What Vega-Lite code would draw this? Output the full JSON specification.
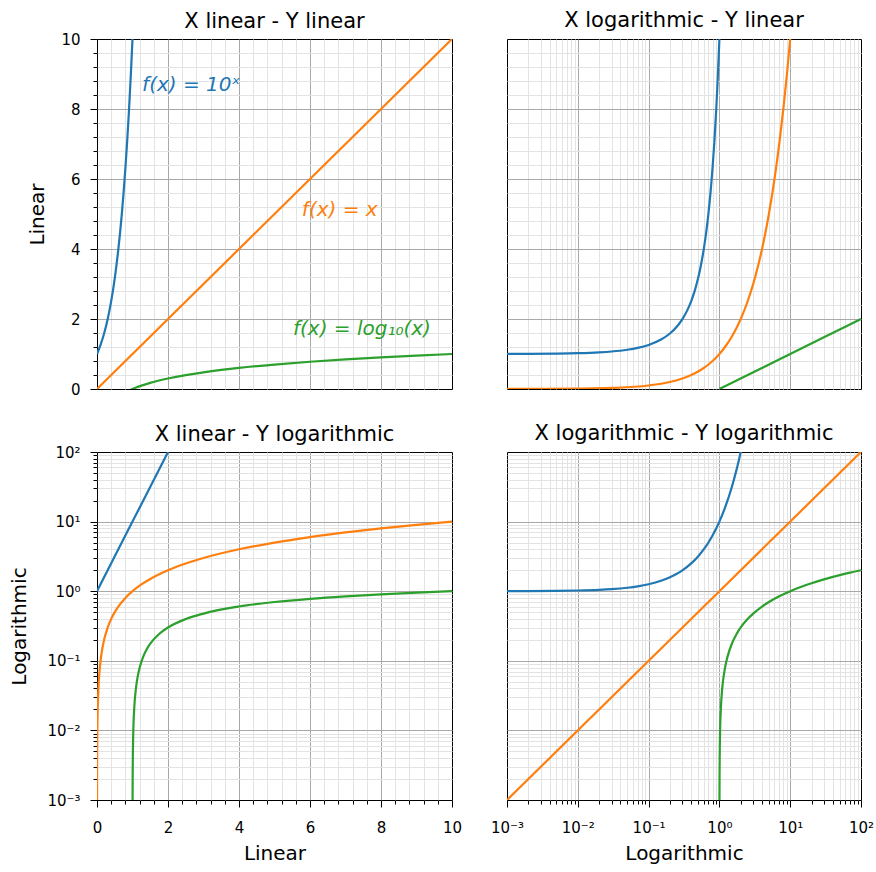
{
  "$schema": "https://vega.github.io/schema/vega-lite/v6.json",
  "padding": {"left": 9, "top": 9, "right": 0, "bottom": 0},
  "background": "white",
  "config": {
    "font": "DejaVu Sans",
    "view": {"stroke": "#000", "strokeWidth": 1},
    "axis": {"labelFont": "DejaVu Sans", "labelFontSize": 15, "labelColor": "#000", "titleFont": "DejaVu Sans", "titleFontSize": 20, "titleFontWeight": "normal", "titleColor": "#000", "domain": false, "tickColor": "#000", "tickWidth": 1, "gridWidth": 1, "labelPadding": 8, "titlePadding": 10, "labelFlush": false, "labelOverlap": false},
    "title": {"font": "DejaVu Sans", "fontSize": 21, "fontWeight": "normal", "color": "#000", "offset": 3}
  },
  "datasets": {
    "tl": [
      {"f": "pow", "x": 0, "y": 1}, {"f": "pow", "x": 0.1, "y": 1.2589}, {"f": "pow", "x": 0.2, "y": 1.5849}, {"f": "pow", "x": 0.3, "y": 1.9953}, {"f": "pow", "x": 0.4, "y": 2.5119}, {"f": "pow", "x": 0.5, "y": 3.1623}, {"f": "pow", "x": 0.6, "y": 3.9811}, {"f": "pow", "x": 0.65, "y": 4.4668}, {"f": "pow", "x": 0.7, "y": 5.0119}, {"f": "pow", "x": 0.75, "y": 5.6234}, {"f": "pow", "x": 0.8, "y": 6.3096}, {"f": "pow", "x": 0.85, "y": 7.0795}, {"f": "pow", "x": 0.9, "y": 7.9433}, {"f": "pow", "x": 0.95, "y": 8.9125}, {"f": "pow", "x": 1.0, "y": 10}, {"f": "pow", "x": 1.05, "y": 11.22},
      {"f": "lin", "x": 0, "y": 0}, {"f": "lin", "x": 5, "y": 5}, {"f": "lin", "x": 10, "y": 10},
      {"f": "log", "x": 0.9, "y": -0.0458}, {"f": "log", "x": 1, "y": 0}, {"f": "log", "x": 1.1, "y": 0.0414}, {"f": "log", "x": 1.25, "y": 0.0969}, {"f": "log", "x": 1.5, "y": 0.1761}, {"f": "log", "x": 1.75, "y": 0.243}, {"f": "log", "x": 2, "y": 0.301}, {"f": "log", "x": 2.5, "y": 0.3979}, {"f": "log", "x": 3, "y": 0.4771}, {"f": "log", "x": 3.5, "y": 0.5441}, {"f": "log", "x": 4, "y": 0.6021}, {"f": "log", "x": 5, "y": 0.699}, {"f": "log", "x": 6, "y": 0.7782}, {"f": "log", "x": 7, "y": 0.8451}, {"f": "log", "x": 8, "y": 0.9031}, {"f": "log", "x": 9, "y": 0.9542}, {"f": "log", "x": 10, "y": 1}
    ],
    "tr": [
      {"f": "pow", "x": 0.001, "y": 1.0023}, {"f": "pow", "x": 0.002, "y": 1.0046}, {"f": "pow", "x": 0.005, "y": 1.0116}, {"f": "pow", "x": 0.01, "y": 1.0233}, {"f": "pow", "x": 0.02, "y": 1.0471}, {"f": "pow", "x": 0.03, "y": 1.0715}, {"f": "pow", "x": 0.05, "y": 1.122}, {"f": "pow", "x": 0.07, "y": 1.1749}, {"f": "pow", "x": 0.1, "y": 1.2589}, {"f": "pow", "x": 0.15, "y": 1.4125}, {"f": "pow", "x": 0.2, "y": 1.5849}, {"f": "pow", "x": 0.25, "y": 1.7783}, {"f": "pow", "x": 0.3, "y": 1.9953}, {"f": "pow", "x": 0.35, "y": 2.2387}, {"f": "pow", "x": 0.4, "y": 2.5119}, {"f": "pow", "x": 0.45, "y": 2.8184}, {"f": "pow", "x": 0.5, "y": 3.1623}, {"f": "pow", "x": 0.55, "y": 3.5481}, {"f": "pow", "x": 0.6, "y": 3.9811}, {"f": "pow", "x": 0.65, "y": 4.4668}, {"f": "pow", "x": 0.7, "y": 5.0119}, {"f": "pow", "x": 0.75, "y": 5.6234}, {"f": "pow", "x": 0.8, "y": 6.3096}, {"f": "pow", "x": 0.85, "y": 7.0795}, {"f": "pow", "x": 0.9, "y": 7.9433}, {"f": "pow", "x": 0.95, "y": 8.9125}, {"f": "pow", "x": 1.0, "y": 10}, {"f": "pow", "x": 1.05, "y": 11.22},
      {"f": "lin", "x": 0.001, "y": 0.001}, {"f": "lin", "x": 0.003, "y": 0.003}, {"f": "lin", "x": 0.01, "y": 0.01}, {"f": "lin", "x": 0.03, "y": 0.03}, {"f": "lin", "x": 0.1, "y": 0.1}, {"f": "lin", "x": 0.2, "y": 0.2}, {"f": "lin", "x": 0.3, "y": 0.3}, {"f": "lin", "x": 0.4, "y": 0.4}, {"f": "lin", "x": 0.5, "y": 0.5}, {"f": "lin", "x": 0.6, "y": 0.6}, {"f": "lin", "x": 0.7, "y": 0.7}, {"f": "lin", "x": 0.8, "y": 0.8}, {"f": "lin", "x": 0.9, "y": 0.9}, {"f": "lin", "x": 1, "y": 1}, {"f": "lin", "x": 1.25, "y": 1.25}, {"f": "lin", "x": 1.5, "y": 1.5}, {"f": "lin", "x": 1.75, "y": 1.75}, {"f": "lin", "x": 2, "y": 2}, {"f": "lin", "x": 2.5, "y": 2.5}, {"f": "lin", "x": 3, "y": 3}, {"f": "lin", "x": 3.5, "y": 3.5}, {"f": "lin", "x": 4, "y": 4}, {"f": "lin", "x": 4.5, "y": 4.5}, {"f": "lin", "x": 5, "y": 5}, {"f": "lin", "x": 6, "y": 6}, {"f": "lin", "x": 7, "y": 7}, {"f": "lin", "x": 8, "y": 8}, {"f": "lin", "x": 9, "y": 9}, {"f": "lin", "x": 10, "y": 10}, {"f": "lin", "x": 11, "y": 11},
      {"f": "log", "x": 1, "y": 0}, {"f": "log", "x": 10, "y": 1}, {"f": "log", "x": 100, "y": 2}
    ],
    "bl": [
      {"f": "pow", "x": 0, "y": 1}, {"f": "pow", "x": 1, "y": 10}, {"f": "pow", "x": 2, "y": 100}, {"f": "pow", "x": 2.1, "y": 125.89},
      {"f": "lin", "x": 0.0008, "y": 0.0008}, {"f": "lin", "x": 0.001, "y": 0.001}, {"f": "lin", "x": 0.002, "y": 0.002}, {"f": "lin", "x": 0.005, "y": 0.005}, {"f": "lin", "x": 0.01, "y": 0.01}, {"f": "lin", "x": 0.02, "y": 0.02}, {"f": "lin", "x": 0.03, "y": 0.03}, {"f": "lin", "x": 0.05, "y": 0.05}, {"f": "lin", "x": 0.07, "y": 0.07}, {"f": "lin", "x": 0.1, "y": 0.1}, {"f": "lin", "x": 0.15, "y": 0.15}, {"f": "lin", "x": 0.2, "y": 0.2}, {"f": "lin", "x": 0.3, "y": 0.3}, {"f": "lin", "x": 0.4, "y": 0.4}, {"f": "lin", "x": 0.5, "y": 0.5}, {"f": "lin", "x": 0.6, "y": 0.6}, {"f": "lin", "x": 0.8, "y": 0.8}, {"f": "lin", "x": 1, "y": 1}, {"f": "lin", "x": 1.25, "y": 1.25}, {"f": "lin", "x": 1.5, "y": 1.5}, {"f": "lin", "x": 2, "y": 2}, {"f": "lin", "x": 2.5, "y": 2.5}, {"f": "lin", "x": 3, "y": 3}, {"f": "lin", "x": 4, "y": 4}, {"f": "lin", "x": 5, "y": 5}, {"f": "lin", "x": 6, "y": 6}, {"f": "lin", "x": 7, "y": 7}, {"f": "lin", "x": 8, "y": 8}, {"f": "lin", "x": 9, "y": 9}, {"f": "lin", "x": 10, "y": 10},
      {"f": "log", "x": 1.001, "y": 0.000434}, {"f": "log", "x": 1.0023, "y": 0.001}, {"f": "log", "x": 1.005, "y": 0.00217}, {"f": "log", "x": 1.01, "y": 0.00432}, {"f": "log", "x": 1.02, "y": 0.0086}, {"f": "log", "x": 1.05, "y": 0.0212}, {"f": "log", "x": 1.1, "y": 0.0414}, {"f": "log", "x": 1.15, "y": 0.0607}, {"f": "log", "x": 1.2, "y": 0.0792}, {"f": "log", "x": 1.3, "y": 0.1139}, {"f": "log", "x": 1.4, "y": 0.1461}, {"f": "log", "x": 1.5, "y": 0.1761}, {"f": "log", "x": 1.75, "y": 0.243}, {"f": "log", "x": 2, "y": 0.301}, {"f": "log", "x": 2.5, "y": 0.3979}, {"f": "log", "x": 3, "y": 0.4771}, {"f": "log", "x": 4, "y": 0.6021}, {"f": "log", "x": 5, "y": 0.699}, {"f": "log", "x": 6, "y": 0.7782}, {"f": "log", "x": 7, "y": 0.8451}, {"f": "log", "x": 8, "y": 0.9031}, {"f": "log", "x": 9, "y": 0.9542}, {"f": "log", "x": 10, "y": 1}
    ],
    "br": [
      {"f": "pow", "x": 0.001, "y": 1.0023}, {"f": "pow", "x": 0.005, "y": 1.0116}, {"f": "pow", "x": 0.01, "y": 1.0233}, {"f": "pow", "x": 0.02, "y": 1.0471}, {"f": "pow", "x": 0.03, "y": 1.0715}, {"f": "pow", "x": 0.05, "y": 1.122}, {"f": "pow", "x": 0.07, "y": 1.1749}, {"f": "pow", "x": 0.1, "y": 1.2589}, {"f": "pow", "x": 0.15, "y": 1.4125}, {"f": "pow", "x": 0.2, "y": 1.5849}, {"f": "pow", "x": 0.25, "y": 1.7783}, {"f": "pow", "x": 0.3, "y": 1.9953}, {"f": "pow", "x": 0.4, "y": 2.5119}, {"f": "pow", "x": 0.5, "y": 3.1623}, {"f": "pow", "x": 0.6, "y": 3.9811}, {"f": "pow", "x": 0.7, "y": 5.0119}, {"f": "pow", "x": 0.8, "y": 6.3096}, {"f": "pow", "x": 0.9, "y": 7.9433}, {"f": "pow", "x": 1, "y": 10}, {"f": "pow", "x": 1.1, "y": 12.589}, {"f": "pow", "x": 1.2, "y": 15.849}, {"f": "pow", "x": 1.3, "y": 19.953}, {"f": "pow", "x": 1.4, "y": 25.119}, {"f": "pow", "x": 1.5, "y": 31.623}, {"f": "pow", "x": 1.6, "y": 39.811}, {"f": "pow", "x": 1.7, "y": 50.119}, {"f": "pow", "x": 1.8, "y": 63.096}, {"f": "pow", "x": 1.9, "y": 79.433}, {"f": "pow", "x": 2, "y": 100}, {"f": "pow", "x": 2.1, "y": 125.89},
      {"f": "lin", "x": 0.001, "y": 0.001}, {"f": "lin", "x": 1, "y": 1}, {"f": "lin", "x": 100, "y": 100},
      {"f": "log", "x": 1.001, "y": 0.000434}, {"f": "log", "x": 1.0023, "y": 0.001}, {"f": "log", "x": 1.005, "y": 0.00217}, {"f": "log", "x": 1.01, "y": 0.00432}, {"f": "log", "x": 1.02, "y": 0.0086}, {"f": "log", "x": 1.05, "y": 0.0212}, {"f": "log", "x": 1.1, "y": 0.0414}, {"f": "log", "x": 1.2, "y": 0.0792}, {"f": "log", "x": 1.3, "y": 0.1139}, {"f": "log", "x": 1.5, "y": 0.1761}, {"f": "log", "x": 1.75, "y": 0.243}, {"f": "log", "x": 2, "y": 0.301}, {"f": "log", "x": 2.5, "y": 0.3979}, {"f": "log", "x": 3, "y": 0.4771}, {"f": "log", "x": 4, "y": 0.6021}, {"f": "log", "x": 5, "y": 0.699}, {"f": "log", "x": 7, "y": 0.8451}, {"f": "log", "x": 10, "y": 1}, {"f": "log", "x": 15, "y": 1.1761}, {"f": "log", "x": 20, "y": 1.301}, {"f": "log", "x": 30, "y": 1.4771}, {"f": "log", "x": 50, "y": 1.699}, {"f": "log", "x": 70, "y": 1.8451}, {"f": "log", "x": 100, "y": 2}
    ],
    "notes": [
      {"f": "pow", "x": 1.27, "y": 8.69, "label": "f(x) = 10ˣ"},
      {"f": "lin", "x": 5.77, "y": 5.11, "label": "f(x) = x"},
      {"f": "log", "x": 5.52, "y": 1.71, "label": "f(x) = log₁₀(x)"}
    ]
  },
  "concat": [
    {
      "title": {"text": "X linear - Y linear", "offset": 0},
      "width": 355, "height": 350,
      "resolve": {"axis": {"x": "independent", "y": "independent"}},
      "layer": [
        {"data": {"name": "tl"}, "transform": [{"filter": "datum.y >= 0 && datum.y <= 10"}], "mark": {"type": "line", "opacity": 0, "clip": true},
         "encoding": {
           "x": {"field": "x", "type": "quantitative", "scale": {"domain": [0, 10], "nice": false, "zero": false}, "axis": {"orient": "bottom", "values": [0.4,0.8,1.2,1.6,2.4,2.8,3.2,3.6,4.4,4.8,5.2,5.6,6.4,6.8,7.2,7.6,8.4,8.8,9.2,9.6], "grid": true, "gridColor": "#e3e3e3", "labels": false, "ticks": false, "title": null}},
           "y": {"field": "y", "type": "quantitative", "scale": {"domain": [0, 10], "nice": false, "zero": false}, "axis": {"orient": "left", "values": [0.4,0.8,1.2,1.6,2.4,2.8,3.2,3.6,4.4,4.8,5.2,5.6,6.4,6.8,7.2,7.6,8.4,8.8,9.2,9.6], "grid": true, "gridColor": "#e3e3e3", "labels": false, "ticks": true, "tickSize": 4, "title": null}},
           "detail": {"field": "f"}
         }},
        {"data": {"name": "tl"}, "mark": {"type": "line", "clip": true, "strokeWidth": 2.2, "interpolate": "monotone"},
         "encoding": {
           "x": {"field": "x", "type": "quantitative", "scale": {"domain": [0, 10], "nice": false, "zero": false}, "axis": {"orient": "bottom", "values": [2,4,6,8], "grid": true, "gridColor": "#a8a8a8", "labels": false, "ticks": false, "title": null}},
           "y": {"field": "y", "type": "quantitative", "scale": {"domain": [0, 10], "nice": false, "zero": false}, "axis": {"orient": "left", "values": [2,4,6,8], "grid": true, "gridColor": "#a8a8a8", "labels": false, "ticks": false, "title": null}},
           "color": {"field": "f", "type": "nominal", "scale": {"domain": ["pow","lin","log"], "range": ["#1f77b4","#ff7f0e","#2ca02c"]}, "legend": null}
         }},
        {"data": {"name": "tl"}, "transform": [{"filter": "datum.y >= 0 && datum.y <= 10"}], "mark": {"type": "line", "opacity": 0, "clip": true},
         "encoding": {
           "x": {"field": "x", "type": "quantitative", "scale": {"domain": [0, 10], "nice": false, "zero": false}, "axis": null},
           "y": {"field": "y", "type": "quantitative", "scale": {"domain": [0, 10], "nice": false, "zero": false}, "axis": {"orient": "left", "values": [0,2,4,6,8,10], "grid": false, "tickSize": 7, "labelPadding": 10, "titlePadding": 13, "title": "Linear"}},
           "detail": {"field": "f"}
         }},
        {"data": {"name": "notes"}, "mark": {"type": "text", "align": "left", "baseline": "middle", "fontSize": 20, "fontStyle": "italic", "font": "DejaVu Sans"},
         "encoding": {
           "x": {"field": "x", "type": "quantitative", "scale": {"domain": [0, 10], "nice": false, "zero": false}, "axis": null},
           "y": {"field": "y", "type": "quantitative", "scale": {"domain": [0, 10], "nice": false, "zero": false}, "axis": null},
           "text": {"field": "label"},
           "color": {"field": "f", "type": "nominal", "scale": {"domain": ["pow","lin","log"], "range": ["#1f77b4","#ff7f0e","#2ca02c"]}, "legend": null}
         }}
      ]
    },
    {
      "title": {"text": "X logarithmic - Y linear", "offset": 8},
      "width": 354, "height": 350,
      "resolve": {"axis": {"x": "independent", "y": "independent"}},
      "layer": [
        {"data": {"name": "tr"}, "transform": [{"filter": "datum.y >= 0 && datum.y <= 10"}], "mark": {"type": "line", "opacity": 0, "clip": true},
         "encoding": {
           "x": {"field": "x", "type": "quantitative", "scale": {"type": "log", "domain": [0.001, 100], "nice": false}, "axis": {"orient": "bottom", "values": [0.002,0.003,0.004,0.005,0.006,0.007,0.008,0.009,0.02,0.03,0.04,0.05,0.06,0.07,0.08,0.09,0.2,0.3,0.4,0.5,0.6,0.7,0.8,0.9,2,3,4,5,6,7,8,9,20,30,40,50,60,70,80,90], "grid": true, "gridColor": "#e3e3e3", "labels": false, "ticks": false, "title": null}},
           "y": {"field": "y", "type": "quantitative", "scale": {"domain": [0, 10], "nice": false, "zero": false}, "axis": {"orient": "left", "values": [0.4,0.8,1.2,1.6,2.4,2.8,3.2,3.6,4.4,4.8,5.2,5.6,6.4,6.8,7.2,7.6,8.4,8.8,9.2,9.6], "grid": true, "gridColor": "#e3e3e3", "labels": false, "ticks": false, "title": null}},
           "detail": {"field": "f"}
         }},
        {"data": {"name": "tr"}, "mark": {"type": "line", "clip": true, "strokeWidth": 2.2, "interpolate": "monotone"},
         "encoding": {
           "x": {"field": "x", "type": "quantitative", "scale": {"type": "log", "domain": [0.001, 100], "nice": false}, "axis": {"orient": "bottom", "values": [0.01,0.1,1,10], "grid": true, "gridColor": "#a8a8a8", "labels": false, "ticks": false, "title": null}},
           "y": {"field": "y", "type": "quantitative", "scale": {"domain": [0, 10], "nice": false, "zero": false}, "axis": {"orient": "left", "values": [2,4,6,8], "grid": true, "gridColor": "#a8a8a8", "labels": false, "ticks": false, "title": null}},
           "color": {"field": "f", "type": "nominal", "scale": {"domain": ["pow","lin","log"], "range": ["#1f77b4","#ff7f0e","#2ca02c"]}, "legend": null}
         }}
      ]
    },
    {
      "title": {"text": "X linear - Y logarithmic", "offset": 0},
      "width": 355, "height": 348,
      "resolve": {"axis": {"x": "independent", "y": "independent"}},
      "layer": [
        {"data": {"name": "bl"}, "transform": [{"filter": "datum.y >= 0.001 && datum.y <= 100"}], "mark": {"type": "line", "opacity": 0, "clip": true},
         "encoding": {
           "x": {"field": "x", "type": "quantitative", "scale": {"domain": [0, 10], "nice": false, "zero": false}, "axis": {"orient": "bottom", "values": [0.4,0.8,1.2,1.6,2.4,2.8,3.2,3.6,4.4,4.8,5.2,5.6,6.4,6.8,7.2,7.6,8.4,8.8,9.2,9.6], "grid": true, "gridColor": "#e3e3e3", "labels": false, "ticks": true, "tickSize": 4, "title": null}},
           "y": {"field": "y", "type": "quantitative", "scale": {"type": "log", "domain": [0.001, 100], "nice": false}, "axis": {"orient": "left", "values": [0.002,0.003,0.004,0.005,0.006,0.007,0.008,0.009,0.02,0.03,0.04,0.05,0.06,0.07,0.08,0.09,0.2,0.3,0.4,0.5,0.6,0.7,0.8,0.9,2,3,4,5,6,7,8,9,20,30,40,50,60,70,80,90], "grid": true, "gridColor": "#e3e3e3", "labels": false, "ticks": true, "tickSize": 4, "title": null}},
           "detail": {"field": "f"}
         }},
        {"data": {"name": "bl"}, "mark": {"type": "line", "clip": true, "strokeWidth": 2.2, "interpolate": "monotone"},
         "encoding": {
           "x": {"field": "x", "type": "quantitative", "scale": {"domain": [0, 10], "nice": false, "zero": false}, "axis": {"orient": "bottom", "values": [2,4,6,8], "grid": true, "gridColor": "#a8a8a8", "labels": false, "ticks": false, "title": null}},
           "y": {"field": "y", "type": "quantitative", "scale": {"type": "log", "domain": [0.001, 100], "nice": false}, "axis": {"orient": "left", "values": [0.01,0.1,1,10], "grid": true, "gridColor": "#a8a8a8", "labels": false, "ticks": false, "title": null}},
           "color": {"field": "f", "type": "nominal", "scale": {"domain": ["pow","lin","log"], "range": ["#1f77b4","#ff7f0e","#2ca02c"]}, "legend": null}
         }},
        {"data": {"name": "bl"}, "transform": [{"filter": "datum.y >= 0.001 && datum.y <= 100"}], "mark": {"type": "line", "opacity": 0, "clip": true},
         "encoding": {
           "x": {"field": "x", "type": "quantitative", "scale": {"domain": [0, 10], "nice": false, "zero": false}, "axis": {"orient": "bottom", "values": [0,2,4,6,8,10], "grid": false, "tickSize": 7, "labelPadding": 13, "titlePadding": 8, "title": "Linear"}},
           "y": {"field": "y", "type": "quantitative", "scale": {"type": "log", "domain": [0.001, 100], "nice": false}, "axis": {"orient": "left", "values": [0.001,0.01,0.1,1,10,100], "grid": false, "tickSize": 7, "labelPadding": 10, "titlePadding": 17, "title": "Logarithmic", "labelExpr": "datum.value < 0.005 ? '10⁻³' : datum.value < 0.05 ? '10⁻²' : datum.value < 0.5 ? '10⁻¹' : datum.value < 5 ? '10⁰' : datum.value < 50 ? '10¹' : '10²'"}},
           "detail": {"field": "f"}
         }}
      ]
    },
    {
      "title": {"text": "X logarithmic - Y logarithmic", "offset": 8},
      "width": 354, "height": 348,
      "resolve": {"axis": {"x": "independent", "y": "independent"}},
      "layer": [
        {"data": {"name": "br"}, "transform": [{"filter": "datum.y >= 0.001 && datum.y <= 100"}], "mark": {"type": "line", "opacity": 0, "clip": true},
         "encoding": {
           "x": {"field": "x", "type": "quantitative", "scale": {"type": "log", "domain": [0.001, 100], "nice": false}, "axis": {"orient": "bottom", "values": [0.002,0.003,0.004,0.005,0.006,0.007,0.008,0.009,0.02,0.03,0.04,0.05,0.06,0.07,0.08,0.09,0.2,0.3,0.4,0.5,0.6,0.7,0.8,0.9,2,3,4,5,6,7,8,9,20,30,40,50,60,70,80,90], "grid": true, "gridColor": "#e3e3e3", "labels": false, "ticks": true, "tickSize": 4, "title": null}},
           "y": {"field": "y", "type": "quantitative", "scale": {"type": "log", "domain": [0.001, 100], "nice": false}, "axis": {"orient": "left", "values": [0.002,0.003,0.004,0.005,0.006,0.007,0.008,0.009,0.02,0.03,0.04,0.05,0.06,0.07,0.08,0.09,0.2,0.3,0.4,0.5,0.6,0.7,0.8,0.9,2,3,4,5,6,7,8,9,20,30,40,50,60,70,80,90], "grid": true, "gridColor": "#e3e3e3", "labels": false, "ticks": false, "title": null}},
           "detail": {"field": "f"}
         }},
        {"data": {"name": "br"}, "mark": {"type": "line", "clip": true, "strokeWidth": 2.2, "interpolate": "monotone"},
         "encoding": {
           "x": {"field": "x", "type": "quantitative", "scale": {"type": "log", "domain": [0.001, 100], "nice": false}, "axis": {"orient": "bottom", "values": [0.01,0.1,1,10], "grid": true, "gridColor": "#a8a8a8", "labels": false, "ticks": false, "title": null}},
           "y": {"field": "y", "type": "quantitative", "scale": {"type": "log", "domain": [0.001, 100], "nice": false}, "axis": {"orient": "left", "values": [0.01,0.1,1,10], "grid": true, "gridColor": "#a8a8a8", "labels": false, "ticks": false, "title": null}},
           "color": {"field": "f", "type": "nominal", "scale": {"domain": ["pow","lin","log"], "range": ["#1f77b4","#ff7f0e","#2ca02c"]}, "legend": null}
         }},
        {"data": {"name": "br"}, "transform": [{"filter": "datum.y >= 0.001 && datum.y <= 100"}], "mark": {"type": "line", "opacity": 0, "clip": true},
         "encoding": {
           "x": {"field": "x", "type": "quantitative", "scale": {"type": "log", "domain": [0.001, 100], "nice": false}, "axis": {"orient": "bottom", "values": [0.001,0.01,0.1,1,10,100], "grid": false, "tickSize": 7, "labelPadding": 13, "titlePadding": 8, "title": "Logarithmic", "labelExpr": "datum.value < 0.005 ? '10⁻³' : datum.value < 0.05 ? '10⁻²' : datum.value < 0.5 ? '10⁻¹' : datum.value < 5 ? '10⁰' : datum.value < 50 ? '10¹' : '10²'"}},
           "y": {"field": "y", "type": "quantitative", "scale": {"type": "log", "domain": [0.001, 100], "nice": false}, "axis": null},
           "detail": {"field": "f"}
         }}
      ]
    }
  ],
  "columns": 2,
  "spacing": {"row": 63, "column": 55},
  "bounds": "flush"
}
